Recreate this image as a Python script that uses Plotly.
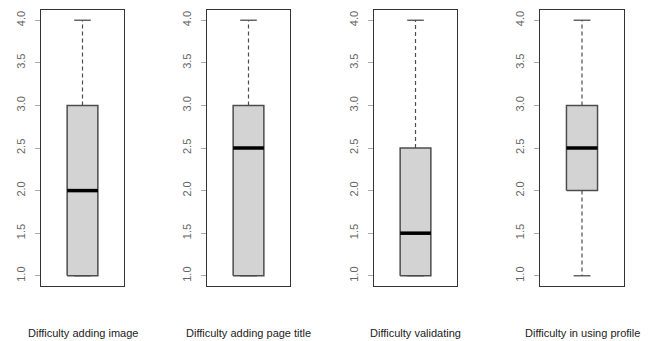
import plotly.graph_objects as go

# ---- data ----
categories = ["Difficulty adding image", "Difficulty adding page title",
              "Difficulty validating", "Difficulty in using profile"]
mins    = [1.0, 1.0, 1.0, 1.0]
q1s     = [1.0, 1.0, 1.0, 2.0]
medians = [2.0, 2.5, 1.5, 2.5]
q3s     = [3.0, 3.0, 2.5, 3.0]
maxs    = [4.0, 4.0, 4.0, 4.0]
tick_vals = [1.0, 1.5, 2.0, 2.5, 3.0, 3.5, 4.0]
tick_text = ["1.0", "1.5", "2.0", "2.5", "3.0", "3.5", "4.0"]

W, H = 654, 341
ML, MR, MT, MB = 41, 30, 10, 55
frames = [(41, 124), (207, 290), (374, 457), (540, 624)]
plot_w = W - ML - MR

CENTER = 0.5
HALF_BOX = 0.185
HALF_CAP = 0.1
BOX_LINE = "#4d4d4d"

fig = go.Figure()
for i, name in enumerate(categories):
    n = i + 1
    xa = "x" if n == 1 else f"x{n}"
    ya = "y" if n == 1 else f"y{n}"
    x0, x1 = CENTER - HALF_BOX, CENTER + HALF_BOX
    # whiskers (dashed)
    fig.add_trace(go.Scatter(
        x=[CENTER, CENTER, None, CENTER, CENTER],
        y=[q3s[i], maxs[i], None, q1s[i], mins[i]],
        mode="lines", line=dict(color=BOX_LINE, width=1.2, dash="4px,3px"),
        xaxis=xa, yaxis=ya, showlegend=False, hoverinfo="skip"))
    # staples
    fig.add_trace(go.Scatter(
        x=[CENTER - HALF_CAP, CENTER + HALF_CAP, None, CENTER - HALF_CAP, CENTER + HALF_CAP],
        y=[maxs[i], maxs[i], None, mins[i], mins[i]],
        mode="lines", line=dict(color=BOX_LINE, width=1.3),
        xaxis=xa, yaxis=ya, showlegend=False, hoverinfo="skip"))
    # box
    fig.add_trace(go.Scatter(
        x=[x0, x1, x1, x0, x0],
        y=[q1s[i], q1s[i], q3s[i], q3s[i], q1s[i]],
        mode="lines", fill="toself", fillcolor="#d3d3d3",
        line=dict(color=BOX_LINE, width=1.5),
        xaxis=xa, yaxis=ya, showlegend=False, name=name))
    # median
    fig.add_trace(go.Scatter(
        x=[x0, x1], y=[medians[i], medians[i]],
        mode="lines", line=dict(color="black", width=3.5),
        xaxis=xa, yaxis=ya, showlegend=False, hoverinfo="skip"))

    dom = [(frames[i][0] - ML) / plot_w, (frames[i][1] - ML) / plot_w]
    fig.update_layout(**{
        ("xaxis" if n == 1 else f"xaxis{n}"): dict(
            domain=dom, range=[0, 1], showgrid=False, zeroline=False,
            showticklabels=False, ticks="", showline=True, mirror=True,
            linecolor="#333333", linewidth=1, anchor=ya, fixedrange=True),
        ("yaxis" if n == 1 else f"yaxis{n}"): dict(
            domain=[0, 1], range=[0.88, 4.12], showgrid=False, zeroline=False,
            tickmode="array", tickvals=tick_vals, ticktext=tick_text,
            tickangle=-90, ticks="outside", ticklen=5, tickcolor="#aaaaaa",
            tickfont=dict(family="Liberation Sans, Arial", size=11, color="#666666"),
            ticklabelstandoff=6,
            showline=True, mirror=True, linecolor="#333333", linewidth=1,
            anchor=xa, fixedrange=True),
    })
    fig.add_annotation(
        text=name, xref=f"{xa} domain", yref=f"{ya} domain",
        x=0.5, y=-(333 - (H - MB)) / (H - MT - MB), xanchor="center", yanchor="middle",
        showarrow=False, font=dict(family="Liberation Sans, Arial", size=11, color="#222222"))

fig.update_layout(
    width=W, height=H, margin=dict(l=ML, r=MR, t=MT, b=MB),
    paper_bgcolor="white", plot_bgcolor="white", showlegend=False)

fig.write_html("out.html", config={"displayModeBar": False},
               post_script="document.body.style.margin='0';document.body.style.overflow='hidden';")
